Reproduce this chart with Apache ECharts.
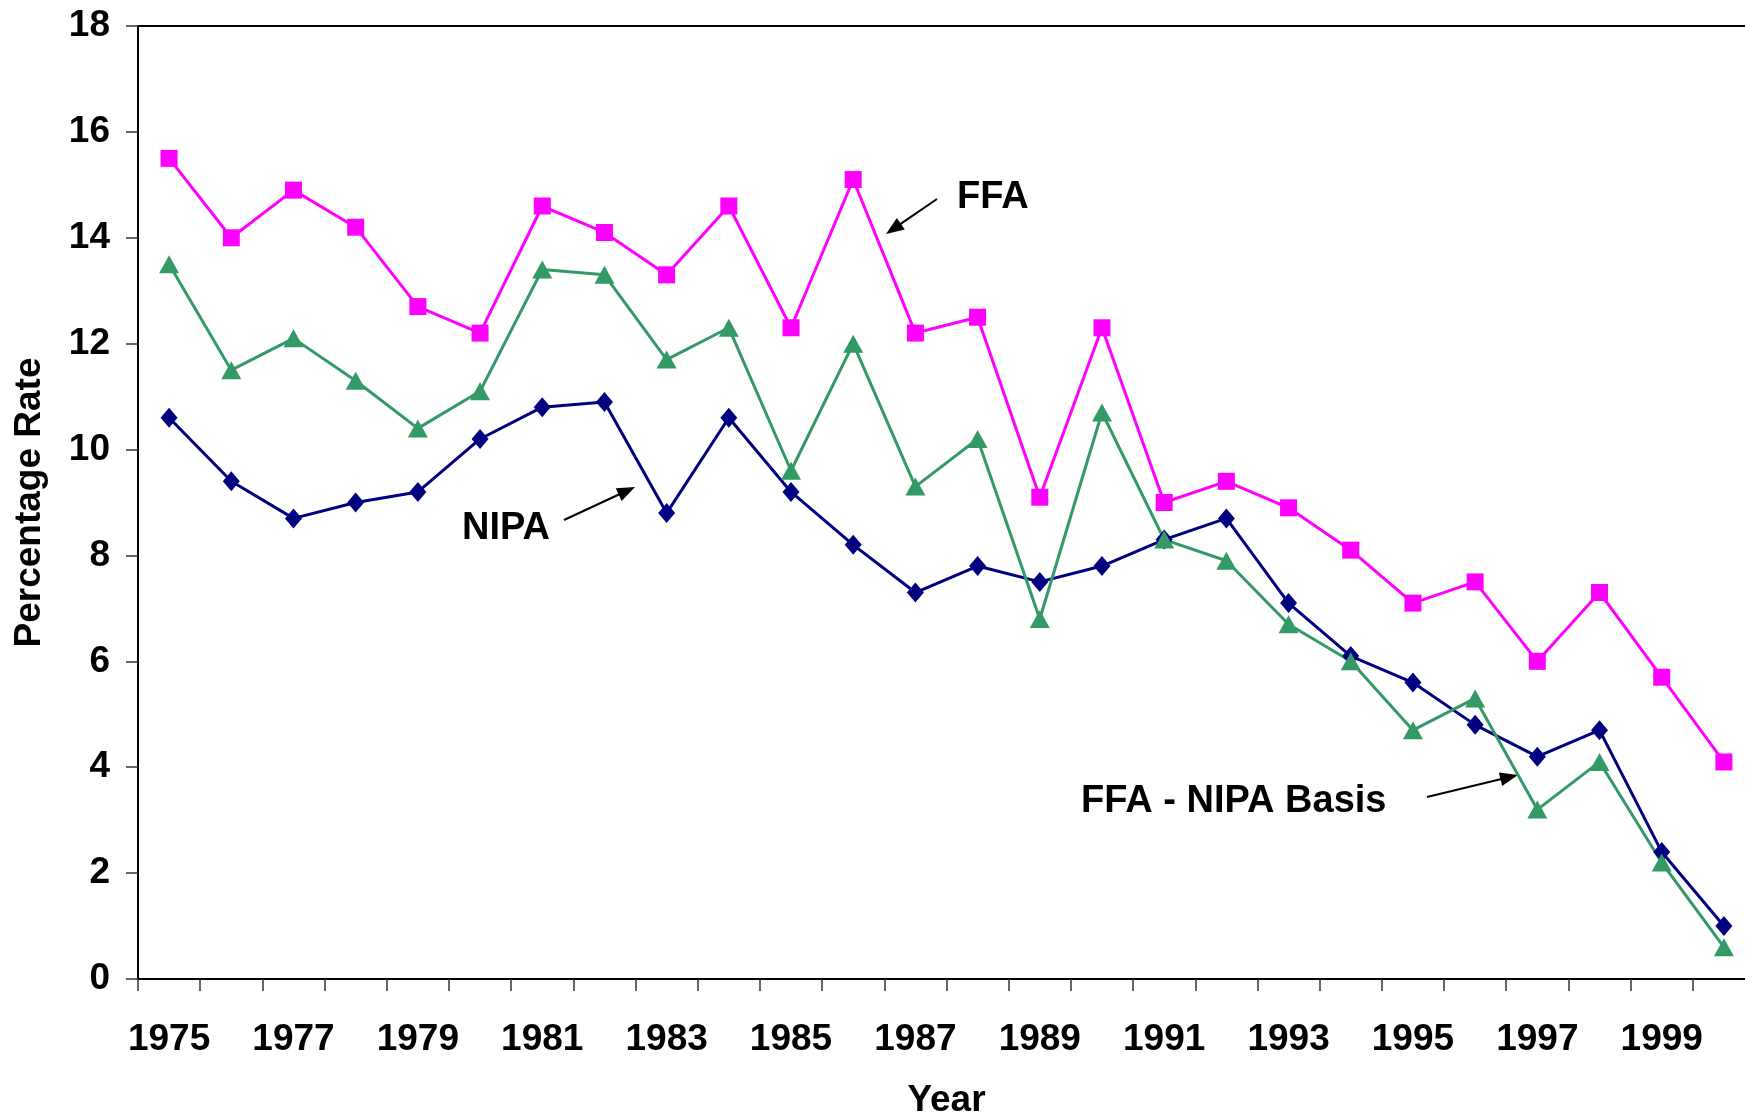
<!DOCTYPE html>
<html>
<head>
<meta charset="utf-8">
<script src="https://cdn.jsdelivr.net/npm/echarts@6/dist/echarts.min.js"></script>
<style>
html,body{margin:0;padding:0;background:#fff;}
#main{width:1745px;height:1116px;}
</style>
</head>
<body>
<div id="main"></div>
<script>
var years = ['1975','1976','1977','1978','1979','1980','1981','1982','1983','1984','1985','1986','1987','1988','1989','1990','1991','1992','1993','1994','1995','1996','1997','1998','1999','2000'];
var ffa = [15.5,14.0,14.9,14.2,12.7,12.2,14.6,14.1,13.3,14.6,12.3,15.1,12.2,12.5,9.1,12.3,9.0,9.4,8.9,8.1,7.1,7.5,6.0,7.3,5.7,4.1];
var ffaNipaBasis = [13.5,11.5,12.1,11.3,10.4,11.1,13.4,13.3,11.7,12.3,9.6,12.0,9.3,10.2,6.8,10.7,8.3,7.9,6.7,6.0,4.7,5.3,3.2,4.1,2.2,0.6];
var nipa = [10.6,9.4,8.7,9.0,9.2,10.2,10.8,10.9,8.8,10.6,9.2,8.2,7.3,7.8,7.5,7.8,8.3,8.7,7.1,6.1,5.6,4.8,4.2,4.7,2.4,1.0];
var yTicks = [0,2,4,6,8,10,12,14,16,18];

var FONT = '"Liberation Sans", Arial, Helvetica, sans-serif';

function arrow(x1, y1, x2, y2) {
  var dx = x2 - x1, dy = y2 - y1;
  var len = Math.sqrt(dx*dx + dy*dy);
  var ux = dx/len, uy = dy/len;
  var hl = 18, hw = 7;
  var bx = x2 - ux*hl, by = y2 - uy*hl;
  var px = -uy, py = ux;
  return [
    {type:'line', shape:{x1:x1, y1:y1, x2:bx+ux*2, y2:by+uy*2}, style:{stroke:'#000', lineWidth:2}},
    {type:'polygon', shape:{points:[[x2,y2],[bx+px*hw,by+py*hw],[bx-px*hw,by-py*hw]]}, style:{fill:'#000'}}
  ];
}

var chart = echarts.init(document.getElementById('main'));
var graphics = [
  {type:'text', left:957, top:179, style:{text:'FFA', font:'bold 38px ' + FONT, fill:'#000'}},
  {type:'text', left:462, top:510, style:{text:'NIPA', font:'bold 38px ' + FONT, fill:'#000'}},
  {type:'text', left:1081, top:783, style:{text:'FFA - NIPA Basis', font:'bold 38px ' + FONT, fill:'#000'}}
].concat(arrow(937,199,886,234)).concat(arrow(564,520,635,487)).concat(arrow(1427,797,1518,775));

chart.setOption({
  animation: false,
  backgroundColor: '#fff',
  grid: {left:138, top:26, width:1617, height:953, containLabel:false, outerBoundsMode:'none',
         show:true, borderColor:'#000', borderWidth:2, backgroundColor:'transparent'},
  xAxis: {
    type:'category', data: years, boundaryGap:true,
    name:'Year', nameLocation:'middle', nameGap:103,
    nameTextStyle:{fontSize:37, fontWeight:'bold', fontFamily:FONT, color:'#000'},
    axisLine:{lineStyle:{color:'#000', width:2}},
    axisTick:{show:true, interval:0, length:12, lineStyle:{color:'#333', width:1.5}},
    axisLabel:{interval:1, margin:42, fontSize:37, fontWeight:'bold', fontFamily:FONT, color:'#000'},
    splitLine:{show:false}
  },
  yAxis: {
    type:'value', min:yTicks[0], max:yTicks[yTicks.length-1], interval:2,
    name:'Percentage Rate', nameLocation:'middle', nameGap:90,
    nameTextStyle:{fontSize:37, fontWeight:'bold', fontFamily:FONT, color:'#000'},
    axisLine:{show:true, lineStyle:{color:'#000', width:2}},
    axisTick:{show:true, length:12, lineStyle:{color:'#333', width:1.5}},
    axisLabel:{margin:28, fontSize:37, fontWeight:'bold', fontFamily:FONT, color:'#000'},
    splitLine:{show:false}
  },
  series: [
    {name:'NIPA', type:'line', data:nipa, symbol:'diamond', symbolSize:[17,20], showAllSymbol:true,
     lineStyle:{color:'#000080', width:3}, itemStyle:{color:'#000080'}},
    {name:'FFA - NIPA Basis', type:'line', data:ffaNipaBasis, symbol:'triangle', symbolSize:[20,18], showAllSymbol:true,
     lineStyle:{color:'#339966', width:3}, itemStyle:{color:'#339966'}},
    {name:'FFA', type:'line', data:ffa, symbol:'rect', symbolSize:17, showAllSymbol:true,
     lineStyle:{color:'#FF00FF', width:3}, itemStyle:{color:'#FF00FF'}}
  ],
  graphic: graphics
});
</script>
</body>
</html>
